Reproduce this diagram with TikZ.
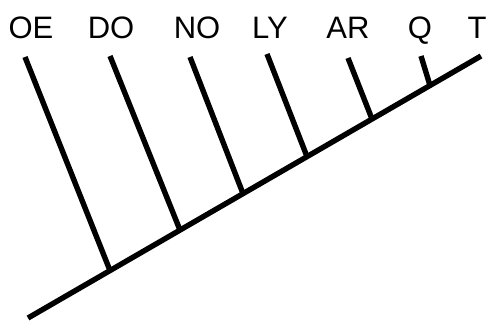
\documentclass[tikz,border=0pt]{standalone}
\usepackage{fontspec}
\setmainfont{Liberation Sans}
\usetikzlibrary{positioning}

\tikzset{
  taxon/.style={font=\fontsize{31}{36}\selectfont, inner sep=0pt, anchor=base},
  branch/.style={line width=5.4pt}
}

\begin{document}
\begin{tikzpicture}[x=1pt, y=-1pt]
\useasboundingbox (0,0) rectangle (487,321);

% Main stem
\coordinate (root) at (28,318);
\coordinate (tipT) at (481,56);
\draw[branch] (root) -- (tipT);

% Taxon labels along the top
\foreach \name/\x in {OE/31, DO/111, NO/197, LY/270, AR/348, Q/420, T/477} {
  \node[taxon] (lab\name) at (\x,38) {\name};
}

% Side branches: free top end / junction on the stem
\foreach \name/\tx/\ty/\jx/\jy in {OE/25/57/110/270.6, DO/110/56/180/230.1,
    NO/190/57/243/193.6, LY/267/54/307/156.6, AR/348/58/372/119.0, Q/421/56/430/85.5} {
  \coordinate (top\name) at (\tx,\ty);
  \coordinate (join\name) at (\jx,\jy);
  \draw[branch] (top\name) -- (join\name);
}
\end{tikzpicture}
\end{document}
